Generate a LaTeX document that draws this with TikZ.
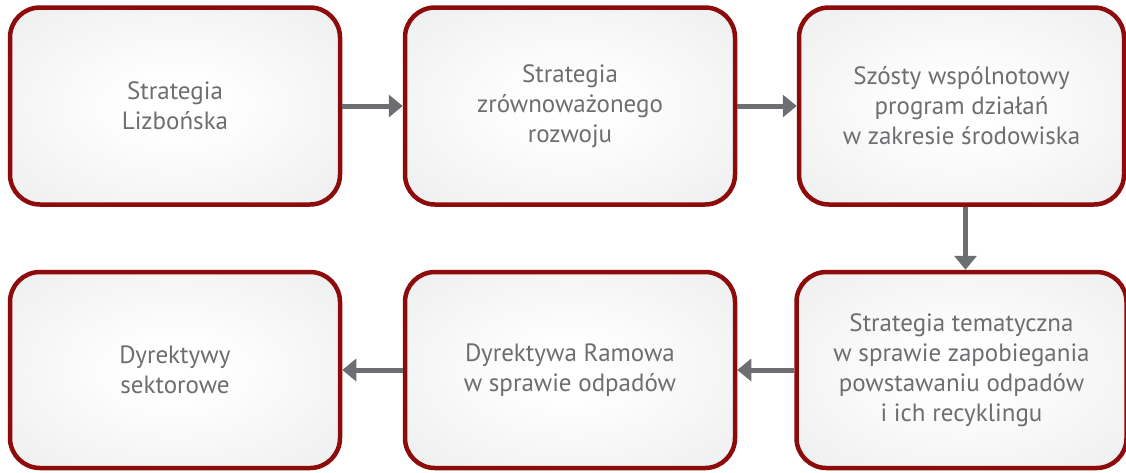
\documentclass[tikz,border=0pt]{standalone}
\usepackage{fontspec}
\setmainfont{PT Sans}
\usetikzlibrary{arrows.meta}
\definecolor{boxred}{HTML}{8E0B0B}
\definecolor{txtgray}{HTML}{6D6E71}
\definecolor{edgegray}{HTML}{E8E9EA}
\pgfdeclareradialshading{softbox}{\pgfpoint{0bp}{0bp}}{%
  color(0bp)=(white); color(6bp)=(white); color(45bp)=(edgegray); color(70bp)=(edgegray)}
\begin{document}
\begin{tikzpicture}[x=1pt,y=-1pt,
  stepbox/.style={draw=boxred, line width=4.5pt, rounded corners=30pt,
    shading=softbox,
    minimum width=330pt, minimum height=197pt,
    text=txtgray, align=center, font=\fontsize{25}{30}\selectfont},
  flow/.style={draw=txtgray, line width=5pt, -{Triangle[length=14pt,width=22pt]}}]
\useasboundingbox (0,0) rectangle (1126,472);
\node[stepbox] (b1) at (175,106) {Strategia\\Lizbońska};
\node[stepbox] (b2) at (570,106) {Strategia\\zrównoważonego\\rozwoju};
\node[stepbox, minimum width=325pt] (b3) at (961.5,106) {Szósty wspólnotowy\\program działań\\w zakresie środowiska};
\node[stepbox, minimum height=196pt] (b6) at (961.5,370) {Strategia tematyczna\\w sprawie zapobiegania\\powstawaniu odpadów\\i ich recyklingu};
\node[stepbox, minimum height=196pt] (b5) at (570,370) {Dyrektywa Ramowa\\w sprawie odpadów};
\node[stepbox, minimum height=196pt] (b4) at (175,370) {Dyrektywy\\sektorowe};
\draw[flow] (b1.east) -- (b2.west);
\draw[flow] (b2.east) -- (b3.west);
\draw[flow] ([xshift=4pt]b3.south) -- ([xshift=4pt]b6.north);
\draw[flow] (b6.west) -- (b5.east);
\draw[flow] (b5.west) -- (b4.east);
\end{tikzpicture}
\end{document}
